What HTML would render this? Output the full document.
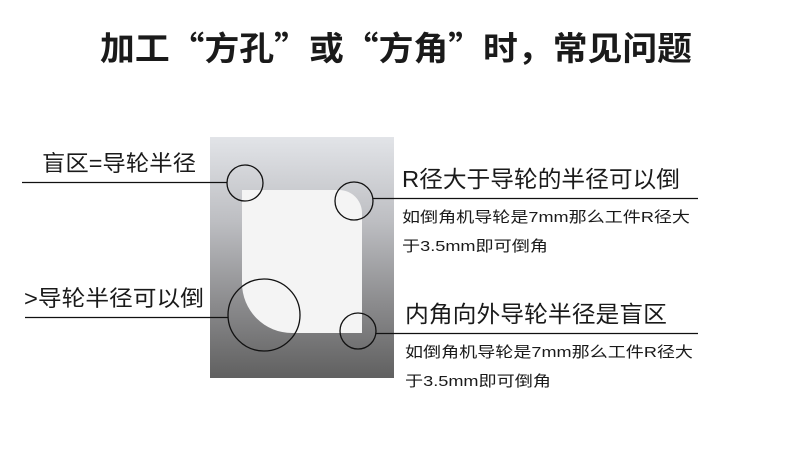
<!DOCTYPE html>
<html><head><meta charset="utf-8"><style>
html,body{margin:0;padding:0;background:#fff;}
svg{display:block;}
text{font-family:"Liberation Sans","Noto Sans CJK SC",sans-serif;fill:#1a1a1a;}
text.t{font-family:"Noto Sans CJK SC",sans-serif;}
</style></head><body>
<svg width="790" height="463" viewBox="0 0 790 463" xmlns="http://www.w3.org/2000/svg">
<defs>
<linearGradient id="g" x1="0" y1="0" x2="0" y2="1">
<stop offset="0" stop-color="#e2e4e8"/>
<stop offset="0.35" stop-color="#bdbec2"/>
<stop offset="0.7" stop-color="#8a8a8c"/>
<stop offset="1" stop-color="#606060"/>
</linearGradient>
</defs>
<text class="t" x="396" y="60" text-anchor="middle" font-size="33" font-weight="bold" textLength="592" lengthAdjust="spacingAndGlyphs">加工“方孔”或“方角”时，常见问题</text>
<rect x="210" y="137" width="184" height="241" fill="url(#g)"/>
<path d="M242 190 H339 A23 23 0 0 1 362 213 V333 H292 A50 50 0 0 1 242 283 Z" fill="#f4f4f4"/>
<g fill="none" stroke="#111" stroke-width="1.3">
<circle cx="245" cy="183" r="18"/>
<circle cx="354" cy="201" r="19"/>
<circle cx="264" cy="315" r="36"/>
<circle cx="358" cy="331" r="18"/>
<line x1="22" y1="182.5" x2="227" y2="182.5"/>
<line x1="25" y1="317.5" x2="228" y2="317.5"/>
<line x1="373" y1="198.5" x2="698" y2="198.5"/>
<line x1="376" y1="333.5" x2="698" y2="333.5"/>
</g>
<text x="42" y="171" font-size="22" textLength="154" lengthAdjust="spacingAndGlyphs">盲区=导轮半径</text>
<text x="24" y="306" font-size="22" textLength="180" lengthAdjust="spacingAndGlyphs">&gt;导轮半径可以倒</text>
<text x="402" y="187" font-size="23" textLength="278" lengthAdjust="spacingAndGlyphs">R径大于导轮的半径可以倒</text>
<text x="402" y="222" font-size="15" textLength="288" lengthAdjust="spacingAndGlyphs">如倒角机导轮是7mm那么工件R径大</text>
<text x="402" y="251" font-size="15" textLength="146" lengthAdjust="spacingAndGlyphs">于3.5mm即可倒角</text>
<text x="405" y="322" font-size="23" textLength="262" lengthAdjust="spacingAndGlyphs">内角向外导轮半径是盲区</text>
<text x="405" y="357" font-size="15" textLength="288" lengthAdjust="spacingAndGlyphs">如倒角机导轮是7mm那么工件R径大</text>
<text x="405" y="386" font-size="15" textLength="146" lengthAdjust="spacingAndGlyphs">于3.5mm即可倒角</text>
</svg>
</body></html>
